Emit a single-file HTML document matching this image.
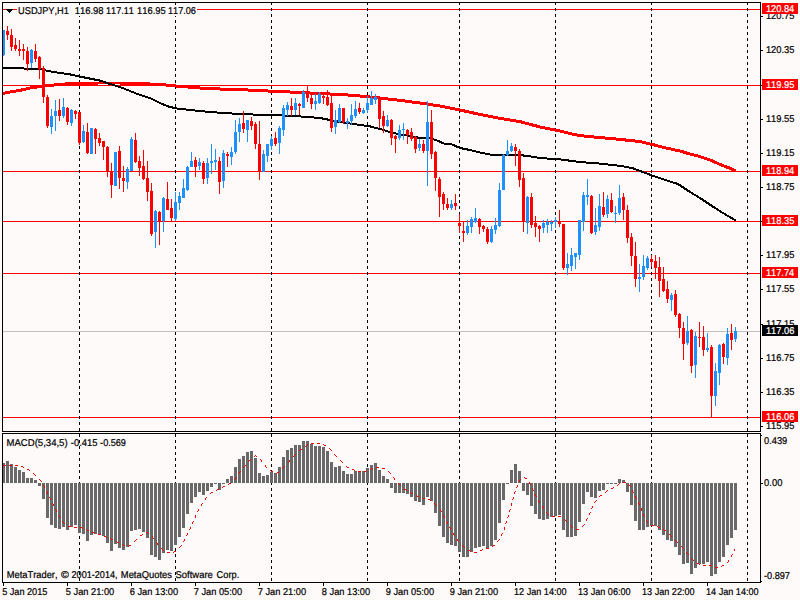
<!DOCTYPE html>
<html><head><meta charset="utf-8"><title>USDJPY,H1</title>
<style>html,body{margin:0;padding:0;background:#FFFAFA;overflow:hidden}svg{display:block}text{font-family:"Liberation Sans",sans-serif;font-size:9px;fill:#000;text-rendering:geometricPrecision;font-kerning:none;stroke:#000;stroke-width:0.2px}.w{fill:#fff;stroke:#fff}</style>
</head><body>
<svg width="800" height="600" viewBox="0 0 800 600" shape-rendering="crispEdges">
<rect x="0" y="0" width="800" height="600" fill="#FFFAFA"/>
<g fill="#FF0000">
<rect x="3" y="9" width="757" height="1"/>
<rect x="3" y="85" width="757" height="1"/>
<rect x="3" y="171" width="757" height="1"/>
<rect x="3" y="221" width="757" height="1"/>
<rect x="3" y="273" width="757" height="1"/>
<rect x="3" y="417" width="757" height="1"/>
</g>
<rect x="3" y="331" width="757" height="1" fill="#C0C0C0"/>
<g stroke="#000" stroke-width="1" stroke-dasharray="3,3">
<line x1="79.5" y1="2" x2="79.5" y2="431"/>
<line x1="79.5" y1="434" x2="79.5" y2="582"/>
<line x1="175.5" y1="2" x2="175.5" y2="431"/>
<line x1="175.5" y1="434" x2="175.5" y2="582"/>
<line x1="271.5" y1="2" x2="271.5" y2="431"/>
<line x1="271.5" y1="434" x2="271.5" y2="582"/>
<line x1="367.5" y1="2" x2="367.5" y2="431"/>
<line x1="367.5" y1="434" x2="367.5" y2="582"/>
<line x1="459.5" y1="2" x2="459.5" y2="431"/>
<line x1="459.5" y1="434" x2="459.5" y2="582"/>
<line x1="555.5" y1="2" x2="555.5" y2="431"/>
<line x1="555.5" y1="434" x2="555.5" y2="582"/>
<line x1="651.5" y1="2" x2="651.5" y2="431"/>
<line x1="651.5" y1="434" x2="651.5" y2="582"/>
<line x1="747.5" y1="2" x2="747.5" y2="431"/>
<line x1="747.5" y1="434" x2="747.5" y2="582"/>
</g>
<polyline points="3.0,93.4 12.0,91.6 20.0,90.4 30.0,88.0 40.0,86.6 50.0,85.4 60.0,84.4 70.0,83.6 80.0,83.2 100.0,83.0 120.0,83.0 140.0,83.6 160.0,84.4 180.0,86.4 200.0,88.0 220.0,89.0 240.0,89.6 260.0,90.6 280.0,91.6 300.0,92.4 320.0,93.6 340.0,94.4 360.0,96.0 380.0,98.0 400.0,100.4 420.0,103.0 440.0,106.0 460.0,110.0 480.0,114.4 500.0,118.4 520.0,121.6 540.0,127.0 560.0,131.0 570.0,133.6 580.0,135.6 600.0,137.6 620.0,139.4 640.0,141.6 652.0,144.4 666.0,148.0 680.0,151.0 690.0,154.0 700.0,156.6 710.0,160.0 720.0,164.4 730.0,168.3 736.0,171.0" fill="none" stroke="#FF0000" stroke-width="3" stroke-linejoin="round"/>
<polyline points="3.0,68.0 20.0,68.4 40.0,69.0 50.0,71.4 60.0,73.0 70.0,74.4 80.0,76.6 90.0,78.6 100.0,80.6 110.0,84.0 120.0,87.0 130.0,91.0 140.0,95.0 150.0,98.0 160.0,103.0 168.0,106.4 176.0,108.4 190.0,110.0 210.0,112.0 230.0,113.4 250.0,114.4 270.0,115.2 290.0,115.6 300.0,116.4 320.0,118.0 340.0,122.0 360.0,125.0 370.0,126.4 380.0,129.0 390.0,132.0 400.0,134.4 410.0,136.0 420.0,138.0 430.0,138.4 436.0,140.0 444.0,143.6 452.0,144.4 460.0,148.0 470.0,150.0 480.0,152.5 492.0,155.0 510.0,155.0 526.0,155.6 540.0,158.0 560.0,159.4 580.0,162.0 600.0,163.6 620.0,165.8 632.0,168.0 640.0,171.0 652.0,175.4 664.0,179.6 678.0,184.0 690.0,192.0 700.0,198.0 710.0,204.7 720.0,211.2 730.0,217.2 736.0,220.6" fill="none" stroke="#000" stroke-width="2" stroke-linejoin="round"/>
<g fill="#FF0000">
<rect x="7" y="26" width="1" height="14"/>
<rect x="6" y="31" width="3" height="4"/>
<rect x="11" y="29" width="1" height="22"/>
<rect x="10" y="35" width="3" height="12"/>
<rect x="15" y="38" width="1" height="13"/>
<rect x="14" y="45" width="3" height="4"/>
<rect x="19" y="40" width="1" height="16"/>
<rect x="18" y="49" width="3" height="2"/>
<rect x="23" y="44" width="1" height="16"/>
<rect x="22" y="49" width="3" height="2"/>
<rect x="27" y="47" width="1" height="24"/>
<rect x="26" y="51" width="3" height="13"/>
<rect x="35" y="44" width="1" height="18"/>
<rect x="34" y="51" width="3" height="8"/>
<rect x="39" y="56" width="1" height="23"/>
<rect x="38" y="57" width="3" height="12"/>
<rect x="43" y="66" width="1" height="37"/>
<rect x="42" y="68" width="3" height="29"/>
<rect x="47" y="95" width="1" height="33"/>
<rect x="46" y="97" width="3" height="29"/>
<rect x="59" y="99" width="1" height="22"/>
<rect x="58" y="110" width="3" height="6"/>
<rect x="67" y="107" width="1" height="18"/>
<rect x="66" y="108" width="3" height="14"/>
<rect x="75" y="110" width="1" height="9"/>
<rect x="74" y="111" width="3" height="3"/>
<rect x="79" y="112" width="1" height="33"/>
<rect x="78" y="112" width="3" height="31"/>
<rect x="87" y="123" width="1" height="31"/>
<rect x="86" y="132" width="3" height="21"/>
<rect x="95" y="128" width="1" height="26"/>
<rect x="94" y="129" width="3" height="10"/>
<rect x="99" y="133" width="1" height="13"/>
<rect x="98" y="138" width="3" height="5"/>
<rect x="103" y="141" width="1" height="19"/>
<rect x="102" y="141" width="3" height="6"/>
<rect x="107" y="146" width="1" height="31"/>
<rect x="106" y="147" width="3" height="25"/>
<rect x="111" y="163" width="1" height="35"/>
<rect x="110" y="171" width="3" height="14"/>
<rect x="119" y="146" width="1" height="43"/>
<rect x="118" y="151" width="3" height="27"/>
<rect x="123" y="166" width="1" height="26"/>
<rect x="122" y="178" width="3" height="3"/>
<rect x="135" y="133" width="1" height="30"/>
<rect x="134" y="140" width="3" height="22"/>
<rect x="139" y="156" width="1" height="20"/>
<rect x="138" y="161" width="3" height="7"/>
<rect x="143" y="150" width="1" height="30"/>
<rect x="142" y="166" width="3" height="13"/>
<rect x="147" y="161" width="1" height="40"/>
<rect x="146" y="178" width="3" height="14"/>
<rect x="151" y="183" width="1" height="53"/>
<rect x="150" y="191" width="3" height="43"/>
<rect x="159" y="211" width="1" height="34"/>
<rect x="158" y="212" width="3" height="9"/>
<rect x="167" y="182" width="1" height="28"/>
<rect x="166" y="199" width="3" height="11"/>
<rect x="171" y="199" width="1" height="22"/>
<rect x="170" y="208" width="3" height="10"/>
<rect x="195" y="157" width="1" height="20"/>
<rect x="194" y="160" width="3" height="7"/>
<rect x="203" y="161" width="1" height="23"/>
<rect x="202" y="163" width="3" height="16"/>
<rect x="219" y="157" width="1" height="37"/>
<rect x="218" y="161" width="3" height="21"/>
<rect x="227" y="152" width="1" height="15"/>
<rect x="226" y="154" width="3" height="2"/>
<rect x="243" y="111" width="1" height="22"/>
<rect x="242" y="123" width="3" height="6"/>
<rect x="251" y="117" width="1" height="13"/>
<rect x="250" y="121" width="3" height="5"/>
<rect x="255" y="122" width="1" height="27"/>
<rect x="254" y="124" width="3" height="20"/>
<rect x="259" y="121" width="1" height="59"/>
<rect x="258" y="144" width="3" height="28"/>
<rect x="275" y="132" width="1" height="14"/>
<rect x="274" y="138" width="3" height="6"/>
<rect x="291" y="98" width="1" height="18"/>
<rect x="290" y="106" width="3" height="4"/>
<rect x="299" y="103" width="1" height="12"/>
<rect x="298" y="104" width="3" height="2"/>
<rect x="307" y="86" width="1" height="16"/>
<rect x="306" y="91" width="3" height="7"/>
<rect x="311" y="95" width="1" height="14"/>
<rect x="310" y="98" width="3" height="6"/>
<rect x="323" y="94" width="1" height="10"/>
<rect x="322" y="96" width="3" height="2"/>
<rect x="327" y="90" width="1" height="16"/>
<rect x="326" y="97" width="3" height="8"/>
<rect x="331" y="94" width="1" height="38"/>
<rect x="330" y="103" width="3" height="25"/>
<rect x="343" y="108" width="1" height="16"/>
<rect x="342" y="108" width="3" height="14"/>
<rect x="359" y="103" width="1" height="11"/>
<rect x="358" y="108" width="3" height="4"/>
<rect x="379" y="97" width="1" height="31"/>
<rect x="378" y="98" width="3" height="21"/>
<rect x="383" y="111" width="1" height="22"/>
<rect x="382" y="116" width="3" height="10"/>
<rect x="391" y="119" width="1" height="26"/>
<rect x="390" y="120" width="3" height="18"/>
<rect x="395" y="135" width="1" height="18"/>
<rect x="394" y="136" width="3" height="3"/>
<rect x="407" y="129" width="1" height="15"/>
<rect x="406" y="130" width="3" height="5"/>
<rect x="411" y="128" width="1" height="13"/>
<rect x="410" y="132" width="3" height="7"/>
<rect x="415" y="136" width="1" height="17"/>
<rect x="414" y="137" width="3" height="12"/>
<rect x="423" y="140" width="1" height="13"/>
<rect x="422" y="144" width="3" height="7"/>
<rect x="431" y="110" width="1" height="49"/>
<rect x="430" y="122" width="3" height="32"/>
<rect x="435" y="151" width="1" height="40"/>
<rect x="434" y="152" width="3" height="26"/>
<rect x="439" y="177" width="1" height="40"/>
<rect x="438" y="179" width="3" height="18"/>
<rect x="443" y="192" width="1" height="18"/>
<rect x="442" y="194" width="3" height="10"/>
<rect x="447" y="198" width="1" height="12"/>
<rect x="446" y="204" width="3" height="4"/>
<rect x="455" y="194" width="1" height="16"/>
<rect x="454" y="203" width="3" height="3"/>
<rect x="459" y="214" width="1" height="19"/>
<rect x="458" y="223" width="3" height="3"/>
<rect x="463" y="221" width="1" height="21"/>
<rect x="462" y="231" width="3" height="2"/>
<rect x="479" y="218" width="1" height="16"/>
<rect x="478" y="219" width="3" height="8"/>
<rect x="483" y="225" width="1" height="7"/>
<rect x="482" y="226" width="3" height="3"/>
<rect x="487" y="227" width="1" height="17"/>
<rect x="486" y="229" width="3" height="13"/>
<rect x="515" y="144" width="1" height="22"/>
<rect x="514" y="147" width="3" height="4"/>
<rect x="519" y="149" width="1" height="38"/>
<rect x="518" y="151" width="3" height="29"/>
<rect x="523" y="173" width="1" height="59"/>
<rect x="522" y="178" width="3" height="44"/>
<rect x="531" y="193" width="1" height="35"/>
<rect x="530" y="197" width="3" height="28"/>
<rect x="535" y="216" width="1" height="21"/>
<rect x="534" y="223" width="3" height="4"/>
<rect x="539" y="225" width="1" height="17"/>
<rect x="538" y="226" width="3" height="3"/>
<rect x="559" y="210" width="1" height="17"/>
<rect x="558" y="222" width="3" height="2"/>
<rect x="563" y="224" width="1" height="46"/>
<rect x="562" y="224" width="3" height="44"/>
<rect x="591" y="195" width="1" height="39"/>
<rect x="590" y="196" width="3" height="37"/>
<rect x="603" y="192" width="1" height="25"/>
<rect x="602" y="207" width="3" height="8"/>
<rect x="611" y="193" width="1" height="20"/>
<rect x="610" y="200" width="3" height="12"/>
<rect x="623" y="193" width="1" height="27"/>
<rect x="622" y="197" width="3" height="13"/>
<rect x="627" y="205" width="1" height="38"/>
<rect x="626" y="210" width="3" height="28"/>
<rect x="631" y="233" width="1" height="33"/>
<rect x="630" y="237" width="3" height="19"/>
<rect x="635" y="242" width="1" height="45"/>
<rect x="634" y="256" width="3" height="23"/>
<rect x="651" y="255" width="1" height="12"/>
<rect x="650" y="259" width="3" height="3"/>
<rect x="655" y="255" width="1" height="24"/>
<rect x="654" y="261" width="3" height="7"/>
<rect x="659" y="257" width="1" height="40"/>
<rect x="658" y="267" width="3" height="14"/>
<rect x="663" y="267" width="1" height="25"/>
<rect x="662" y="279" width="3" height="12"/>
<rect x="667" y="281" width="1" height="22"/>
<rect x="666" y="289" width="3" height="10"/>
<rect x="675" y="290" width="1" height="27"/>
<rect x="674" y="294" width="3" height="21"/>
<rect x="679" y="313" width="1" height="25"/>
<rect x="678" y="314" width="3" height="14"/>
<rect x="683" y="322" width="1" height="38"/>
<rect x="682" y="328" width="3" height="16"/>
<rect x="691" y="329" width="1" height="44"/>
<rect x="690" y="330" width="3" height="36"/>
<rect x="699" y="322" width="1" height="25"/>
<rect x="698" y="337" width="3" height="1"/>
<rect x="703" y="326" width="1" height="30"/>
<rect x="702" y="337" width="3" height="13"/>
<rect x="711" y="345" width="1" height="73"/>
<rect x="710" y="347" width="3" height="49"/>
<rect x="723" y="343" width="1" height="21"/>
<rect x="722" y="344" width="3" height="13"/>
<rect x="731" y="324" width="1" height="26"/>
<rect x="730" y="333" width="3" height="7"/>
</g>
<g fill="#1E90FF">
<rect x="3" y="30" width="1" height="26"/>
<rect x="2" y="30" width="3" height="25"/>
<rect x="31" y="49" width="1" height="19"/>
<rect x="30" y="50" width="3" height="13"/>
<rect x="51" y="109" width="1" height="25"/>
<rect x="50" y="116" width="3" height="11"/>
<rect x="55" y="100" width="1" height="31"/>
<rect x="54" y="111" width="3" height="5"/>
<rect x="63" y="98" width="1" height="20"/>
<rect x="62" y="107" width="3" height="9"/>
<rect x="71" y="109" width="1" height="17"/>
<rect x="70" y="110" width="3" height="13"/>
<rect x="83" y="125" width="1" height="18"/>
<rect x="82" y="131" width="3" height="11"/>
<rect x="91" y="128" width="1" height="26"/>
<rect x="90" y="128" width="3" height="26"/>
<rect x="115" y="152" width="1" height="34"/>
<rect x="114" y="152" width="3" height="34"/>
<rect x="127" y="167" width="1" height="22"/>
<rect x="126" y="169" width="3" height="13"/>
<rect x="131" y="137" width="1" height="34"/>
<rect x="130" y="139" width="3" height="32"/>
<rect x="155" y="210" width="1" height="38"/>
<rect x="154" y="211" width="3" height="21"/>
<rect x="163" y="197" width="1" height="35"/>
<rect x="162" y="198" width="3" height="23"/>
<rect x="175" y="192" width="1" height="29"/>
<rect x="174" y="202" width="3" height="17"/>
<rect x="179" y="192" width="1" height="18"/>
<rect x="178" y="196" width="3" height="7"/>
<rect x="183" y="179" width="1" height="19"/>
<rect x="182" y="188" width="3" height="10"/>
<rect x="187" y="166" width="1" height="25"/>
<rect x="186" y="167" width="3" height="23"/>
<rect x="191" y="152" width="1" height="15"/>
<rect x="190" y="161" width="3" height="6"/>
<rect x="199" y="158" width="1" height="12"/>
<rect x="198" y="162" width="3" height="4"/>
<rect x="207" y="158" width="1" height="26"/>
<rect x="206" y="163" width="3" height="15"/>
<rect x="211" y="144" width="1" height="30"/>
<rect x="210" y="161" width="3" height="2"/>
<rect x="215" y="149" width="1" height="21"/>
<rect x="214" y="160" width="3" height="2"/>
<rect x="223" y="150" width="1" height="38"/>
<rect x="222" y="153" width="3" height="28"/>
<rect x="231" y="147" width="1" height="18"/>
<rect x="230" y="152" width="3" height="5"/>
<rect x="235" y="120" width="1" height="34"/>
<rect x="234" y="132" width="3" height="20"/>
<rect x="239" y="118" width="1" height="24"/>
<rect x="238" y="124" width="3" height="8"/>
<rect x="247" y="120" width="1" height="22"/>
<rect x="246" y="120" width="3" height="10"/>
<rect x="263" y="150" width="1" height="22"/>
<rect x="262" y="154" width="3" height="18"/>
<rect x="267" y="144" width="1" height="18"/>
<rect x="266" y="144" width="3" height="12"/>
<rect x="271" y="136" width="1" height="14"/>
<rect x="270" y="139" width="3" height="7"/>
<rect x="279" y="126" width="1" height="28"/>
<rect x="278" y="128" width="3" height="15"/>
<rect x="283" y="105" width="1" height="31"/>
<rect x="282" y="108" width="3" height="22"/>
<rect x="287" y="102" width="1" height="14"/>
<rect x="286" y="105" width="3" height="5"/>
<rect x="295" y="98" width="1" height="17"/>
<rect x="294" y="103" width="3" height="7"/>
<rect x="303" y="90" width="1" height="18"/>
<rect x="302" y="92" width="3" height="16"/>
<rect x="315" y="94" width="1" height="16"/>
<rect x="314" y="101" width="3" height="3"/>
<rect x="319" y="92" width="1" height="12"/>
<rect x="318" y="94" width="3" height="9"/>
<rect x="335" y="110" width="1" height="24"/>
<rect x="334" y="120" width="3" height="7"/>
<rect x="339" y="104" width="1" height="19"/>
<rect x="338" y="108" width="3" height="14"/>
<rect x="347" y="118" width="1" height="11"/>
<rect x="346" y="121" width="3" height="2"/>
<rect x="351" y="104" width="1" height="21"/>
<rect x="350" y="115" width="3" height="6"/>
<rect x="355" y="101" width="1" height="17"/>
<rect x="354" y="109" width="3" height="7"/>
<rect x="363" y="108" width="1" height="6"/>
<rect x="362" y="110" width="3" height="3"/>
<rect x="367" y="96" width="1" height="17"/>
<rect x="366" y="103" width="3" height="7"/>
<rect x="371" y="91" width="1" height="14"/>
<rect x="370" y="98" width="3" height="7"/>
<rect x="375" y="94" width="1" height="10"/>
<rect x="374" y="97" width="3" height="3"/>
<rect x="387" y="115" width="1" height="12"/>
<rect x="386" y="120" width="3" height="6"/>
<rect x="399" y="125" width="1" height="15"/>
<rect x="398" y="130" width="3" height="8"/>
<rect x="403" y="123" width="1" height="17"/>
<rect x="402" y="129" width="3" height="1"/>
<rect x="419" y="139" width="1" height="12"/>
<rect x="418" y="144" width="3" height="4"/>
<rect x="427" y="101" width="1" height="85"/>
<rect x="426" y="122" width="3" height="29"/>
<rect x="451" y="200" width="1" height="10"/>
<rect x="450" y="204" width="3" height="4"/>
<rect x="467" y="220" width="1" height="15"/>
<rect x="466" y="226" width="3" height="7"/>
<rect x="471" y="217" width="1" height="16"/>
<rect x="470" y="219" width="3" height="8"/>
<rect x="475" y="208" width="1" height="15"/>
<rect x="474" y="218" width="3" height="4"/>
<rect x="491" y="226" width="1" height="17"/>
<rect x="490" y="229" width="3" height="13"/>
<rect x="495" y="218" width="1" height="16"/>
<rect x="494" y="225" width="3" height="5"/>
<rect x="499" y="183" width="1" height="44"/>
<rect x="498" y="190" width="3" height="36"/>
<rect x="503" y="154" width="1" height="36"/>
<rect x="502" y="155" width="3" height="35"/>
<rect x="507" y="140" width="1" height="16"/>
<rect x="506" y="151" width="3" height="4"/>
<rect x="511" y="143" width="1" height="9"/>
<rect x="510" y="146" width="3" height="5"/>
<rect x="527" y="196" width="1" height="38"/>
<rect x="526" y="197" width="3" height="26"/>
<rect x="543" y="220" width="1" height="13"/>
<rect x="542" y="223" width="3" height="5"/>
<rect x="547" y="219" width="1" height="14"/>
<rect x="546" y="222" width="3" height="3"/>
<rect x="551" y="220" width="1" height="11"/>
<rect x="550" y="222" width="3" height="2"/>
<rect x="555" y="217" width="1" height="11"/>
<rect x="554" y="220" width="3" height="2"/>
<rect x="567" y="253" width="1" height="22"/>
<rect x="566" y="264" width="3" height="4"/>
<rect x="571" y="248" width="1" height="23"/>
<rect x="570" y="255" width="3" height="11"/>
<rect x="575" y="253" width="1" height="16"/>
<rect x="574" y="253" width="3" height="4"/>
<rect x="579" y="220" width="1" height="40"/>
<rect x="578" y="220" width="3" height="35"/>
<rect x="583" y="192" width="1" height="39"/>
<rect x="582" y="195" width="3" height="27"/>
<rect x="587" y="179" width="1" height="26"/>
<rect x="586" y="195" width="3" height="2"/>
<rect x="595" y="208" width="1" height="27"/>
<rect x="594" y="225" width="3" height="7"/>
<rect x="599" y="194" width="1" height="37"/>
<rect x="598" y="206" width="3" height="21"/>
<rect x="607" y="195" width="1" height="23"/>
<rect x="606" y="199" width="3" height="15"/>
<rect x="615" y="206" width="1" height="17"/>
<rect x="614" y="213" width="3" height="1"/>
<rect x="619" y="185" width="1" height="30"/>
<rect x="618" y="198" width="3" height="15"/>
<rect x="639" y="264" width="1" height="28"/>
<rect x="638" y="277" width="3" height="2"/>
<rect x="643" y="255" width="1" height="25"/>
<rect x="642" y="266" width="3" height="11"/>
<rect x="647" y="256" width="1" height="14"/>
<rect x="646" y="258" width="3" height="10"/>
<rect x="671" y="293" width="1" height="18"/>
<rect x="670" y="295" width="3" height="5"/>
<rect x="687" y="316" width="1" height="29"/>
<rect x="686" y="331" width="3" height="12"/>
<rect x="695" y="332" width="1" height="46"/>
<rect x="694" y="336" width="3" height="29"/>
<rect x="707" y="333" width="1" height="19"/>
<rect x="706" y="348" width="3" height="2"/>
<rect x="715" y="363" width="1" height="43"/>
<rect x="714" y="371" width="3" height="25"/>
<rect x="719" y="344" width="1" height="41"/>
<rect x="718" y="345" width="3" height="28"/>
<rect x="727" y="328" width="1" height="37"/>
<rect x="726" y="334" width="3" height="24"/>
<rect x="735" y="327" width="1" height="15"/>
<rect x="734" y="331" width="3" height="8"/>
</g>
<g fill="#696969">
<rect x="2" y="463" width="3" height="20"/>
<rect x="6" y="461" width="3" height="22"/>
<rect x="10" y="464" width="3" height="19"/>
<rect x="14" y="467" width="3" height="16"/>
<rect x="18" y="470" width="3" height="13"/>
<rect x="22" y="472" width="3" height="11"/>
<rect x="26" y="478" width="3" height="5"/>
<rect x="30" y="478" width="3" height="5"/>
<rect x="34" y="480" width="3" height="3"/>
<rect x="38" y="483" width="3" height="3"/>
<rect x="42" y="483" width="3" height="16"/>
<rect x="46" y="483" width="3" height="35"/>
<rect x="50" y="483" width="3" height="42"/>
<rect x="54" y="483" width="3" height="45"/>
<rect x="58" y="483" width="3" height="46"/>
<rect x="62" y="483" width="3" height="44"/>
<rect x="66" y="483" width="3" height="47"/>
<rect x="70" y="483" width="3" height="44"/>
<rect x="74" y="483" width="3" height="42"/>
<rect x="78" y="483" width="3" height="50"/>
<rect x="82" y="483" width="3" height="51"/>
<rect x="86" y="483" width="3" height="58"/>
<rect x="90" y="483" width="3" height="52"/>
<rect x="94" y="483" width="3" height="51"/>
<rect x="98" y="483" width="3" height="51"/>
<rect x="102" y="483" width="3" height="53"/>
<rect x="106" y="483" width="3" height="60"/>
<rect x="110" y="483" width="3" height="68"/>
<rect x="114" y="483" width="3" height="61"/>
<rect x="118" y="483" width="3" height="65"/>
<rect x="122" y="483" width="3" height="67"/>
<rect x="126" y="483" width="3" height="64"/>
<rect x="130" y="483" width="3" height="48"/>
<rect x="134" y="483" width="3" height="47"/>
<rect x="138" y="483" width="3" height="46"/>
<rect x="142" y="483" width="3" height="49"/>
<rect x="146" y="483" width="3" height="55"/>
<rect x="150" y="483" width="3" height="72"/>
<rect x="154" y="483" width="3" height="74"/>
<rect x="158" y="483" width="3" height="77"/>
<rect x="162" y="483" width="3" height="70"/>
<rect x="166" y="483" width="3" height="67"/>
<rect x="170" y="483" width="3" height="68"/>
<rect x="174" y="483" width="3" height="62"/>
<rect x="178" y="483" width="3" height="54"/>
<rect x="182" y="483" width="3" height="45"/>
<rect x="186" y="483" width="3" height="31"/>
<rect x="190" y="483" width="3" height="20"/>
<rect x="194" y="483" width="3" height="14"/>
<rect x="198" y="483" width="3" height="9"/>
<rect x="202" y="483" width="3" height="12"/>
<rect x="206" y="483" width="3" height="8"/>
<rect x="210" y="483" width="3" height="4"/>
<rect x="214" y="483" width="3" height="1"/>
<rect x="218" y="483" width="3" height="7"/>
<rect x="222" y="483" width="3" height="1"/>
<rect x="226" y="479" width="3" height="4"/>
<rect x="230" y="476" width="3" height="7"/>
<rect x="234" y="467" width="3" height="16"/>
<rect x="238" y="459" width="3" height="24"/>
<rect x="242" y="456" width="3" height="27"/>
<rect x="246" y="452" width="3" height="31"/>
<rect x="250" y="451" width="3" height="32"/>
<rect x="254" y="458" width="3" height="25"/>
<rect x="258" y="473" width="3" height="10"/>
<rect x="262" y="476" width="3" height="7"/>
<rect x="266" y="475" width="3" height="8"/>
<rect x="270" y="472" width="3" height="11"/>
<rect x="274" y="473" width="3" height="10"/>
<rect x="278" y="467" width="3" height="16"/>
<rect x="282" y="457" width="3" height="26"/>
<rect x="286" y="450" width="3" height="33"/>
<rect x="290" y="448" width="3" height="35"/>
<rect x="294" y="445" width="3" height="38"/>
<rect x="298" y="445" width="3" height="38"/>
<rect x="302" y="441" width="3" height="42"/>
<rect x="306" y="441" width="3" height="42"/>
<rect x="310" y="444" width="3" height="39"/>
<rect x="314" y="446" width="3" height="37"/>
<rect x="318" y="446" width="3" height="37"/>
<rect x="322" y="447" width="3" height="36"/>
<rect x="326" y="451" width="3" height="32"/>
<rect x="330" y="462" width="3" height="21"/>
<rect x="334" y="467" width="3" height="16"/>
<rect x="338" y="466" width="3" height="17"/>
<rect x="342" y="471" width="3" height="12"/>
<rect x="346" y="474" width="3" height="9"/>
<rect x="350" y="474" width="3" height="9"/>
<rect x="354" y="471" width="3" height="12"/>
<rect x="358" y="471" width="3" height="12"/>
<rect x="362" y="471" width="3" height="12"/>
<rect x="366" y="468" width="3" height="15"/>
<rect x="370" y="465" width="3" height="18"/>
<rect x="374" y="463" width="3" height="20"/>
<rect x="378" y="470" width="3" height="13"/>
<rect x="382" y="476" width="3" height="7"/>
<rect x="386" y="479" width="3" height="4"/>
<rect x="390" y="483" width="3" height="5"/>
<rect x="394" y="483" width="3" height="10"/>
<rect x="398" y="483" width="3" height="10"/>
<rect x="402" y="483" width="3" height="10"/>
<rect x="406" y="483" width="3" height="11"/>
<rect x="410" y="483" width="3" height="14"/>
<rect x="414" y="483" width="3" height="18"/>
<rect x="418" y="483" width="3" height="19"/>
<rect x="422" y="483" width="3" height="22"/>
<rect x="426" y="483" width="3" height="14"/>
<rect x="430" y="483" width="3" height="18"/>
<rect x="434" y="483" width="3" height="30"/>
<rect x="438" y="483" width="3" height="43"/>
<rect x="442" y="483" width="3" height="54"/>
<rect x="446" y="483" width="3" height="60"/>
<rect x="450" y="483" width="3" height="62"/>
<rect x="454" y="483" width="3" height="63"/>
<rect x="458" y="483" width="3" height="69"/>
<rect x="462" y="483" width="3" height="74"/>
<rect x="466" y="483" width="3" height="74"/>
<rect x="470" y="483" width="3" height="69"/>
<rect x="474" y="483" width="3" height="65"/>
<rect x="478" y="483" width="3" height="64"/>
<rect x="482" y="483" width="3" height="63"/>
<rect x="486" y="483" width="3" height="65"/>
<rect x="490" y="483" width="3" height="63"/>
<rect x="494" y="483" width="3" height="57"/>
<rect x="498" y="483" width="3" height="40"/>
<rect x="502" y="483" width="3" height="17"/>
<rect x="506" y="483" width="3" height="1"/>
<rect x="510" y="470" width="3" height="13"/>
<rect x="514" y="464" width="3" height="19"/>
<rect x="518" y="471" width="3" height="12"/>
<rect x="522" y="483" width="3" height="8"/>
<rect x="526" y="483" width="3" height="12"/>
<rect x="530" y="483" width="3" height="23"/>
<rect x="534" y="483" width="3" height="31"/>
<rect x="538" y="483" width="3" height="36"/>
<rect x="542" y="483" width="3" height="37"/>
<rect x="546" y="483" width="3" height="36"/>
<rect x="550" y="483" width="3" height="34"/>
<rect x="554" y="483" width="3" height="33"/>
<rect x="558" y="483" width="3" height="32"/>
<rect x="562" y="483" width="3" height="47"/>
<rect x="566" y="483" width="3" height="54"/>
<rect x="570" y="483" width="3" height="54"/>
<rect x="574" y="483" width="3" height="53"/>
<rect x="578" y="483" width="3" height="39"/>
<rect x="582" y="483" width="3" height="21"/>
<rect x="586" y="483" width="3" height="9"/>
<rect x="590" y="483" width="3" height="14"/>
<rect x="594" y="483" width="3" height="15"/>
<rect x="598" y="483" width="3" height="8"/>
<rect x="602" y="483" width="3" height="7"/>
<rect x="606" y="483" width="3" height="1"/>
<rect x="610" y="483" width="3" height="1"/>
<rect x="614" y="483" width="3" height="1"/>
<rect x="618" y="479" width="3" height="4"/>
<rect x="622" y="480" width="3" height="3"/>
<rect x="626" y="483" width="3" height="9"/>
<rect x="630" y="483" width="3" height="22"/>
<rect x="634" y="483" width="3" height="38"/>
<rect x="638" y="483" width="3" height="47"/>
<rect x="642" y="483" width="3" height="47"/>
<rect x="646" y="483" width="3" height="44"/>
<rect x="650" y="483" width="3" height="43"/>
<rect x="654" y="483" width="3" height="43"/>
<rect x="658" y="483" width="3" height="47"/>
<rect x="662" y="483" width="3" height="52"/>
<rect x="666" y="483" width="3" height="57"/>
<rect x="670" y="483" width="3" height="58"/>
<rect x="674" y="483" width="3" height="64"/>
<rect x="678" y="483" width="3" height="72"/>
<rect x="682" y="483" width="3" height="81"/>
<rect x="686" y="483" width="3" height="80"/>
<rect x="690" y="483" width="3" height="91"/>
<rect x="694" y="483" width="3" height="85"/>
<rect x="698" y="483" width="3" height="81"/>
<rect x="702" y="483" width="3" height="81"/>
<rect x="706" y="483" width="3" height="79"/>
<rect x="710" y="483" width="3" height="93"/>
<rect x="714" y="483" width="3" height="91"/>
<rect x="718" y="483" width="3" height="79"/>
<rect x="722" y="483" width="3" height="74"/>
<rect x="726" y="483" width="3" height="62"/>
<rect x="730" y="483" width="3" height="55"/>
<rect x="734" y="483" width="3" height="47"/>
</g>
<g fill="#FF0000">
<rect x="3" y="465" width="1" height="1"/>
<rect x="4" y="465" width="1" height="1"/>
<rect x="5" y="465" width="1" height="1"/>
<rect x="9" y="465" width="1" height="1"/>
<rect x="10" y="465" width="1" height="1"/>
<rect x="11" y="465" width="1" height="1"/>
<rect x="15" y="465" width="1" height="1"/>
<rect x="16" y="465" width="1" height="1"/>
<rect x="17" y="465" width="1" height="1"/>
<rect x="21" y="466" width="1" height="1"/>
<rect x="22" y="466" width="1" height="1"/>
<rect x="23" y="467" width="1" height="1"/>
<rect x="27" y="469" width="1" height="1"/>
<rect x="28" y="469" width="1" height="1"/>
<rect x="29" y="470" width="1" height="1"/>
<rect x="33" y="473" width="1" height="1"/>
<rect x="34" y="474" width="1" height="1"/>
<rect x="35" y="475" width="1" height="1"/>
<rect x="39" y="479" width="1" height="1"/>
<rect x="40" y="480" width="1" height="1"/>
<rect x="41" y="481" width="1" height="1"/>
<rect x="43" y="485" width="1" height="1"/>
<rect x="44" y="486" width="1" height="1"/>
<rect x="44" y="487" width="1" height="1"/>
<rect x="46" y="491" width="1" height="1"/>
<rect x="47" y="492" width="1" height="1"/>
<rect x="47" y="493" width="1" height="1"/>
<rect x="49" y="497" width="1" height="1"/>
<rect x="50" y="498" width="1" height="1"/>
<rect x="50" y="499" width="1" height="1"/>
<rect x="52" y="503" width="1" height="1"/>
<rect x="53" y="504" width="1" height="1"/>
<rect x="53" y="505" width="1" height="1"/>
<rect x="55" y="509" width="1" height="1"/>
<rect x="56" y="510" width="1" height="1"/>
<rect x="56" y="511" width="1" height="1"/>
<rect x="58" y="515" width="1" height="1"/>
<rect x="59" y="516" width="1" height="1"/>
<rect x="60" y="517" width="1" height="1"/>
<rect x="62" y="521" width="1" height="1"/>
<rect x="63" y="522" width="1" height="1"/>
<rect x="64" y="523" width="1" height="1"/>
<rect x="68" y="526" width="1" height="1"/>
<rect x="69" y="526" width="1" height="1"/>
<rect x="70" y="526" width="1" height="1"/>
<rect x="74" y="527" width="1" height="1"/>
<rect x="75" y="527" width="1" height="1"/>
<rect x="76" y="527" width="1" height="1"/>
<rect x="80" y="527" width="1" height="1"/>
<rect x="81" y="527" width="1" height="1"/>
<rect x="82" y="528" width="1" height="1"/>
<rect x="86" y="529" width="1" height="1"/>
<rect x="87" y="530" width="1" height="1"/>
<rect x="88" y="530" width="1" height="1"/>
<rect x="92" y="532" width="1" height="1"/>
<rect x="93" y="532" width="1" height="1"/>
<rect x="94" y="533" width="1" height="1"/>
<rect x="98" y="534" width="1" height="1"/>
<rect x="99" y="534" width="1" height="1"/>
<rect x="100" y="534" width="1" height="1"/>
<rect x="104" y="536" width="1" height="1"/>
<rect x="105" y="536" width="1" height="1"/>
<rect x="106" y="537" width="1" height="1"/>
<rect x="110" y="538" width="1" height="1"/>
<rect x="111" y="539" width="1" height="1"/>
<rect x="112" y="539" width="1" height="1"/>
<rect x="116" y="541" width="1" height="1"/>
<rect x="117" y="542" width="1" height="1"/>
<rect x="118" y="542" width="1" height="1"/>
<rect x="122" y="544" width="1" height="1"/>
<rect x="123" y="545" width="1" height="1"/>
<rect x="124" y="545" width="1" height="1"/>
<rect x="128" y="546" width="1" height="1"/>
<rect x="129" y="545" width="1" height="1"/>
<rect x="130" y="545" width="1" height="1"/>
<rect x="134" y="541" width="1" height="1"/>
<rect x="135" y="540" width="1" height="1"/>
<rect x="136" y="539" width="1" height="1"/>
<rect x="140" y="535" width="1" height="1"/>
<rect x="141" y="535" width="1" height="1"/>
<rect x="142" y="534" width="1" height="1"/>
<rect x="146" y="532" width="1" height="1"/>
<rect x="147" y="532" width="1" height="1"/>
<rect x="148" y="533" width="1" height="1"/>
<rect x="152" y="536" width="1" height="1"/>
<rect x="152" y="537" width="1" height="1"/>
<rect x="153" y="538" width="1" height="1"/>
<rect x="156" y="542" width="1" height="1"/>
<rect x="157" y="543" width="1" height="1"/>
<rect x="157" y="544" width="1" height="1"/>
<rect x="161" y="548" width="1" height="1"/>
<rect x="162" y="549" width="1" height="1"/>
<rect x="163" y="550" width="1" height="1"/>
<rect x="167" y="552" width="1" height="1"/>
<rect x="168" y="552" width="1" height="1"/>
<rect x="169" y="552" width="1" height="1"/>
<rect x="173" y="552" width="1" height="1"/>
<rect x="174" y="551" width="1" height="1"/>
<rect x="175" y="551" width="1" height="1"/>
<rect x="179" y="547" width="1" height="1"/>
<rect x="180" y="546" width="1" height="1"/>
<rect x="181" y="545" width="1" height="1"/>
<rect x="183" y="541" width="1" height="1"/>
<rect x="184" y="540" width="1" height="1"/>
<rect x="184" y="539" width="1" height="1"/>
<rect x="186" y="535" width="1" height="1"/>
<rect x="187" y="534" width="1" height="1"/>
<rect x="187" y="533" width="1" height="1"/>
<rect x="189" y="529" width="1" height="1"/>
<rect x="190" y="528" width="1" height="1"/>
<rect x="190" y="527" width="1" height="1"/>
<rect x="192" y="523" width="1" height="1"/>
<rect x="192" y="522" width="1" height="1"/>
<rect x="193" y="521" width="1" height="1"/>
<rect x="195" y="517" width="1" height="1"/>
<rect x="195" y="516" width="1" height="1"/>
<rect x="195" y="515" width="1" height="1"/>
<rect x="197" y="511" width="1" height="1"/>
<rect x="198" y="510" width="1" height="1"/>
<rect x="198" y="509" width="1" height="1"/>
<rect x="201" y="505" width="1" height="1"/>
<rect x="201" y="504" width="1" height="1"/>
<rect x="202" y="503" width="1" height="1"/>
<rect x="205" y="499" width="1" height="1"/>
<rect x="205" y="498" width="1" height="1"/>
<rect x="206" y="497" width="1" height="1"/>
<rect x="210" y="493" width="1" height="1"/>
<rect x="211" y="492" width="1" height="1"/>
<rect x="212" y="492" width="1" height="1"/>
<rect x="216" y="490" width="1" height="1"/>
<rect x="217" y="489" width="1" height="1"/>
<rect x="218" y="489" width="1" height="1"/>
<rect x="222" y="487" width="1" height="1"/>
<rect x="223" y="486" width="1" height="1"/>
<rect x="224" y="486" width="1" height="1"/>
<rect x="228" y="484" width="1" height="1"/>
<rect x="229" y="483" width="1" height="1"/>
<rect x="230" y="483" width="1" height="1"/>
<rect x="234" y="479" width="1" height="1"/>
<rect x="235" y="478" width="1" height="1"/>
<rect x="236" y="477" width="1" height="1"/>
<rect x="238" y="473" width="1" height="1"/>
<rect x="239" y="472" width="1" height="1"/>
<rect x="240" y="471" width="1" height="1"/>
<rect x="243" y="467" width="1" height="1"/>
<rect x="244" y="466" width="1" height="1"/>
<rect x="245" y="465" width="1" height="1"/>
<rect x="248" y="461" width="1" height="1"/>
<rect x="249" y="460" width="1" height="1"/>
<rect x="250" y="459" width="1" height="1"/>
<rect x="254" y="456" width="1" height="1"/>
<rect x="255" y="455" width="1" height="1"/>
<rect x="256" y="456" width="1" height="1"/>
<rect x="260" y="459" width="1" height="1"/>
<rect x="261" y="460" width="1" height="1"/>
<rect x="261" y="461" width="1" height="1"/>
<rect x="265" y="465" width="1" height="1"/>
<rect x="265" y="466" width="1" height="1"/>
<rect x="266" y="467" width="1" height="1"/>
<rect x="270" y="470" width="1" height="1"/>
<rect x="271" y="471" width="1" height="1"/>
<rect x="272" y="471" width="1" height="1"/>
<rect x="276" y="473" width="1" height="1"/>
<rect x="277" y="472" width="1" height="1"/>
<rect x="278" y="472" width="1" height="1"/>
<rect x="282" y="468" width="1" height="1"/>
<rect x="283" y="467" width="1" height="1"/>
<rect x="284" y="466" width="1" height="1"/>
<rect x="288" y="462" width="1" height="1"/>
<rect x="289" y="461" width="1" height="1"/>
<rect x="289" y="460" width="1" height="1"/>
<rect x="293" y="456" width="1" height="1"/>
<rect x="294" y="455" width="1" height="1"/>
<rect x="295" y="454" width="1" height="1"/>
<rect x="299" y="450" width="1" height="1"/>
<rect x="300" y="449" width="1" height="1"/>
<rect x="301" y="449" width="1" height="1"/>
<rect x="305" y="446" width="1" height="1"/>
<rect x="306" y="445" width="1" height="1"/>
<rect x="307" y="444" width="1" height="1"/>
<rect x="311" y="443" width="1" height="1"/>
<rect x="312" y="443" width="1" height="1"/>
<rect x="313" y="443" width="1" height="1"/>
<rect x="317" y="443" width="1" height="1"/>
<rect x="318" y="443" width="1" height="1"/>
<rect x="319" y="443" width="1" height="1"/>
<rect x="323" y="444" width="1" height="1"/>
<rect x="324" y="445" width="1" height="1"/>
<rect x="325" y="445" width="1" height="1"/>
<rect x="329" y="448" width="1" height="1"/>
<rect x="330" y="449" width="1" height="1"/>
<rect x="331" y="450" width="1" height="1"/>
<rect x="334" y="454" width="1" height="1"/>
<rect x="335" y="455" width="1" height="1"/>
<rect x="336" y="456" width="1" height="1"/>
<rect x="340" y="460" width="1" height="1"/>
<rect x="341" y="461" width="1" height="1"/>
<rect x="342" y="462" width="1" height="1"/>
<rect x="346" y="466" width="1" height="1"/>
<rect x="347" y="467" width="1" height="1"/>
<rect x="348" y="467" width="1" height="1"/>
<rect x="352" y="469" width="1" height="1"/>
<rect x="353" y="469" width="1" height="1"/>
<rect x="354" y="470" width="1" height="1"/>
<rect x="358" y="471" width="1" height="1"/>
<rect x="359" y="471" width="1" height="1"/>
<rect x="360" y="471" width="1" height="1"/>
<rect x="364" y="471" width="1" height="1"/>
<rect x="365" y="471" width="1" height="1"/>
<rect x="366" y="470" width="1" height="1"/>
<rect x="370" y="469" width="1" height="1"/>
<rect x="371" y="468" width="1" height="1"/>
<rect x="372" y="468" width="1" height="1"/>
<rect x="376" y="467" width="1" height="1"/>
<rect x="377" y="467" width="1" height="1"/>
<rect x="378" y="467" width="1" height="1"/>
<rect x="382" y="468" width="1" height="1"/>
<rect x="383" y="468" width="1" height="1"/>
<rect x="384" y="468" width="1" height="1"/>
<rect x="388" y="471" width="1" height="1"/>
<rect x="389" y="472" width="1" height="1"/>
<rect x="390" y="473" width="1" height="1"/>
<rect x="393" y="477" width="1" height="1"/>
<rect x="394" y="478" width="1" height="1"/>
<rect x="394" y="479" width="1" height="1"/>
<rect x="398" y="483" width="1" height="1"/>
<rect x="399" y="484" width="1" height="1"/>
<rect x="400" y="485" width="1" height="1"/>
<rect x="404" y="489" width="1" height="1"/>
<rect x="405" y="489" width="1" height="1"/>
<rect x="406" y="490" width="1" height="1"/>
<rect x="410" y="492" width="1" height="1"/>
<rect x="411" y="493" width="1" height="1"/>
<rect x="412" y="493" width="1" height="1"/>
<rect x="416" y="495" width="1" height="1"/>
<rect x="417" y="496" width="1" height="1"/>
<rect x="418" y="496" width="1" height="1"/>
<rect x="422" y="498" width="1" height="1"/>
<rect x="423" y="498" width="1" height="1"/>
<rect x="424" y="498" width="1" height="1"/>
<rect x="428" y="499" width="1" height="1"/>
<rect x="429" y="499" width="1" height="1"/>
<rect x="430" y="500" width="1" height="1"/>
<rect x="434" y="503" width="1" height="1"/>
<rect x="435" y="504" width="1" height="1"/>
<rect x="436" y="505" width="1" height="1"/>
<rect x="440" y="509" width="1" height="1"/>
<rect x="440" y="510" width="1" height="1"/>
<rect x="441" y="511" width="1" height="1"/>
<rect x="443" y="515" width="1" height="1"/>
<rect x="444" y="516" width="1" height="1"/>
<rect x="444" y="517" width="1" height="1"/>
<rect x="446" y="521" width="1" height="1"/>
<rect x="447" y="522" width="1" height="1"/>
<rect x="447" y="523" width="1" height="1"/>
<rect x="449" y="527" width="1" height="1"/>
<rect x="450" y="528" width="1" height="1"/>
<rect x="450" y="529" width="1" height="1"/>
<rect x="453" y="533" width="1" height="1"/>
<rect x="453" y="534" width="1" height="1"/>
<rect x="454" y="535" width="1" height="1"/>
<rect x="457" y="539" width="1" height="1"/>
<rect x="457" y="540" width="1" height="1"/>
<rect x="458" y="541" width="1" height="1"/>
<rect x="462" y="545" width="1" height="1"/>
<rect x="463" y="546" width="1" height="1"/>
<rect x="464" y="547" width="1" height="1"/>
<rect x="468" y="550" width="1" height="1"/>
<rect x="469" y="550" width="1" height="1"/>
<rect x="470" y="551" width="1" height="1"/>
<rect x="474" y="552" width="1" height="1"/>
<rect x="475" y="552" width="1" height="1"/>
<rect x="476" y="552" width="1" height="1"/>
<rect x="480" y="550" width="1" height="1"/>
<rect x="481" y="550" width="1" height="1"/>
<rect x="482" y="549" width="1" height="1"/>
<rect x="486" y="548" width="1" height="1"/>
<rect x="487" y="548" width="1" height="1"/>
<rect x="488" y="548" width="1" height="1"/>
<rect x="492" y="546" width="1" height="1"/>
<rect x="493" y="545" width="1" height="1"/>
<rect x="494" y="545" width="1" height="1"/>
<rect x="497" y="541" width="1" height="1"/>
<rect x="498" y="540" width="1" height="1"/>
<rect x="499" y="539" width="1" height="1"/>
<rect x="501" y="535" width="1" height="1"/>
<rect x="501" y="534" width="1" height="1"/>
<rect x="502" y="533" width="1" height="1"/>
<rect x="504" y="529" width="1" height="1"/>
<rect x="504" y="528" width="1" height="1"/>
<rect x="504" y="527" width="1" height="1"/>
<rect x="505" y="523" width="1" height="1"/>
<rect x="506" y="522" width="1" height="1"/>
<rect x="506" y="521" width="1" height="1"/>
<rect x="507" y="517" width="1" height="1"/>
<rect x="508" y="516" width="1" height="1"/>
<rect x="508" y="515" width="1" height="1"/>
<rect x="509" y="511" width="1" height="1"/>
<rect x="509" y="510" width="1" height="1"/>
<rect x="510" y="509" width="1" height="1"/>
<rect x="511" y="505" width="1" height="1"/>
<rect x="511" y="504" width="1" height="1"/>
<rect x="511" y="503" width="1" height="1"/>
<rect x="512" y="499" width="1" height="1"/>
<rect x="513" y="498" width="1" height="1"/>
<rect x="513" y="497" width="1" height="1"/>
<rect x="514" y="493" width="1" height="1"/>
<rect x="514" y="492" width="1" height="1"/>
<rect x="515" y="491" width="1" height="1"/>
<rect x="516" y="487" width="1" height="1"/>
<rect x="517" y="486" width="1" height="1"/>
<rect x="517" y="485" width="1" height="1"/>
<rect x="519" y="481" width="1" height="1"/>
<rect x="519" y="480" width="1" height="1"/>
<rect x="520" y="479" width="1" height="1"/>
<rect x="524" y="477" width="1" height="1"/>
<rect x="525" y="478" width="1" height="1"/>
<rect x="526" y="478" width="1" height="1"/>
<rect x="529" y="482" width="1" height="1"/>
<rect x="529" y="483" width="1" height="1"/>
<rect x="530" y="484" width="1" height="1"/>
<rect x="532" y="488" width="1" height="1"/>
<rect x="532" y="489" width="1" height="1"/>
<rect x="533" y="490" width="1" height="1"/>
<rect x="535" y="494" width="1" height="1"/>
<rect x="535" y="495" width="1" height="1"/>
<rect x="536" y="496" width="1" height="1"/>
<rect x="538" y="500" width="1" height="1"/>
<rect x="538" y="501" width="1" height="1"/>
<rect x="539" y="502" width="1" height="1"/>
<rect x="542" y="506" width="1" height="1"/>
<rect x="542" y="507" width="1" height="1"/>
<rect x="543" y="508" width="1" height="1"/>
<rect x="546" y="512" width="1" height="1"/>
<rect x="547" y="513" width="1" height="1"/>
<rect x="548" y="514" width="1" height="1"/>
<rect x="552" y="516" width="1" height="1"/>
<rect x="553" y="516" width="1" height="1"/>
<rect x="554" y="516" width="1" height="1"/>
<rect x="558" y="516" width="1" height="1"/>
<rect x="559" y="516" width="1" height="1"/>
<rect x="560" y="516" width="1" height="1"/>
<rect x="564" y="519" width="1" height="1"/>
<rect x="565" y="520" width="1" height="1"/>
<rect x="566" y="521" width="1" height="1"/>
<rect x="570" y="525" width="1" height="1"/>
<rect x="571" y="526" width="1" height="1"/>
<rect x="572" y="527" width="1" height="1"/>
<rect x="576" y="529" width="1" height="1"/>
<rect x="577" y="529" width="1" height="1"/>
<rect x="578" y="529" width="1" height="1"/>
<rect x="582" y="526" width="1" height="1"/>
<rect x="583" y="525" width="1" height="1"/>
<rect x="584" y="524" width="1" height="1"/>
<rect x="586" y="520" width="1" height="1"/>
<rect x="586" y="519" width="1" height="1"/>
<rect x="587" y="518" width="1" height="1"/>
<rect x="589" y="514" width="1" height="1"/>
<rect x="589" y="513" width="1" height="1"/>
<rect x="590" y="512" width="1" height="1"/>
<rect x="591" y="508" width="1" height="1"/>
<rect x="592" y="507" width="1" height="1"/>
<rect x="592" y="506" width="1" height="1"/>
<rect x="594" y="502" width="1" height="1"/>
<rect x="595" y="501" width="1" height="1"/>
<rect x="596" y="500" width="1" height="1"/>
<rect x="599" y="496" width="1" height="1"/>
<rect x="600" y="495" width="1" height="1"/>
<rect x="601" y="495" width="1" height="1"/>
<rect x="605" y="492" width="1" height="1"/>
<rect x="606" y="491" width="1" height="1"/>
<rect x="607" y="490" width="1" height="1"/>
<rect x="611" y="488" width="1" height="1"/>
<rect x="612" y="488" width="1" height="1"/>
<rect x="613" y="487" width="1" height="1"/>
<rect x="617" y="485" width="1" height="1"/>
<rect x="618" y="484" width="1" height="1"/>
<rect x="619" y="483" width="1" height="1"/>
<rect x="623" y="482" width="1" height="1"/>
<rect x="624" y="482" width="1" height="1"/>
<rect x="625" y="482" width="1" height="1"/>
<rect x="628" y="484" width="1" height="1"/>
<rect x="629" y="485" width="1" height="1"/>
<rect x="630" y="486" width="1" height="1"/>
<rect x="632" y="490" width="1" height="1"/>
<rect x="632" y="491" width="1" height="1"/>
<rect x="633" y="492" width="1" height="1"/>
<rect x="635" y="496" width="1" height="1"/>
<rect x="635" y="497" width="1" height="1"/>
<rect x="636" y="498" width="1" height="1"/>
<rect x="638" y="502" width="1" height="1"/>
<rect x="638" y="503" width="1" height="1"/>
<rect x="639" y="504" width="1" height="1"/>
<rect x="641" y="508" width="1" height="1"/>
<rect x="641" y="509" width="1" height="1"/>
<rect x="641" y="510" width="1" height="1"/>
<rect x="643" y="514" width="1" height="1"/>
<rect x="643" y="515" width="1" height="1"/>
<rect x="644" y="516" width="1" height="1"/>
<rect x="646" y="520" width="1" height="1"/>
<rect x="646" y="521" width="1" height="1"/>
<rect x="647" y="522" width="1" height="1"/>
<rect x="651" y="525" width="1" height="1"/>
<rect x="652" y="525" width="1" height="1"/>
<rect x="653" y="525" width="1" height="1"/>
<rect x="657" y="526" width="1" height="1"/>
<rect x="658" y="527" width="1" height="1"/>
<rect x="659" y="527" width="1" height="1"/>
<rect x="663" y="529" width="1" height="1"/>
<rect x="664" y="530" width="1" height="1"/>
<rect x="665" y="530" width="1" height="1"/>
<rect x="669" y="534" width="1" height="1"/>
<rect x="670" y="535" width="1" height="1"/>
<rect x="671" y="536" width="1" height="1"/>
<rect x="675" y="540" width="1" height="1"/>
<rect x="676" y="541" width="1" height="1"/>
<rect x="677" y="542" width="1" height="1"/>
<rect x="681" y="546" width="1" height="1"/>
<rect x="682" y="547" width="1" height="1"/>
<rect x="683" y="548" width="1" height="1"/>
<rect x="686" y="552" width="1" height="1"/>
<rect x="687" y="553" width="1" height="1"/>
<rect x="688" y="554" width="1" height="1"/>
<rect x="691" y="558" width="1" height="1"/>
<rect x="692" y="559" width="1" height="1"/>
<rect x="693" y="560" width="1" height="1"/>
<rect x="697" y="563" width="1" height="1"/>
<rect x="698" y="563" width="1" height="1"/>
<rect x="699" y="564" width="1" height="1"/>
<rect x="703" y="565" width="1" height="1"/>
<rect x="704" y="565" width="1" height="1"/>
<rect x="705" y="565" width="1" height="1"/>
<rect x="709" y="565" width="1" height="1"/>
<rect x="710" y="565" width="1" height="1"/>
<rect x="711" y="565" width="1" height="1"/>
<rect x="715" y="567" width="1" height="1"/>
<rect x="716" y="567" width="1" height="1"/>
<rect x="717" y="567" width="1" height="1"/>
<rect x="721" y="566" width="1" height="1"/>
<rect x="722" y="565" width="1" height="1"/>
<rect x="723" y="565" width="1" height="1"/>
<rect x="727" y="562" width="1" height="1"/>
<rect x="728" y="561" width="1" height="1"/>
<rect x="728" y="560" width="1" height="1"/>
<rect x="731" y="556" width="1" height="1"/>
<rect x="731" y="555" width="1" height="1"/>
<rect x="732" y="554" width="1" height="1"/>
<rect x="734" y="550" width="1" height="1"/>
<rect x="734" y="549" width="1" height="1"/>
</g>
<g fill="#000">
<rect x="2" y="2" width="759" height="1"/>
<rect x="2" y="431" width="759" height="1"/>
<rect x="2" y="2" width="1" height="430"/>
<rect x="760" y="2" width="1" height="430"/>
<rect x="2" y="433" width="759" height="1"/>
<rect x="2" y="582" width="759" height="1"/>
<rect x="761" y="435" width="1" height="1"/>
<rect x="761" y="581" width="1" height="1"/>
<rect x="2" y="433" width="1" height="150"/>
<rect x="760" y="433" width="1" height="150"/>
<rect x="761" y="16" width="2" height="1"/>
<rect x="761" y="50" width="2" height="1"/>
<rect x="761" y="85" width="2" height="1"/>
<rect x="761" y="119" width="2" height="1"/>
<rect x="761" y="153" width="2" height="1"/>
<rect x="761" y="187" width="2" height="1"/>
<rect x="761" y="221" width="2" height="1"/>
<rect x="761" y="255" width="2" height="1"/>
<rect x="761" y="289" width="2" height="1"/>
<rect x="761" y="324" width="2" height="1"/>
<rect x="761" y="358" width="2" height="1"/>
<rect x="761" y="392" width="2" height="1"/>
<rect x="761" y="426" width="2" height="1"/>
<rect x="761" y="483" width="2" height="1"/>
<rect x="3" y="583" width="1" height="3"/>
<rect x="67" y="583" width="1" height="3"/>
<rect x="131" y="583" width="1" height="3"/>
<rect x="195" y="583" width="1" height="3"/>
<rect x="259" y="583" width="1" height="3"/>
<rect x="323" y="583" width="1" height="3"/>
<rect x="387" y="583" width="1" height="3"/>
<rect x="451" y="583" width="1" height="3"/>
<rect x="515" y="583" width="1" height="3"/>
<rect x="579" y="583" width="1" height="3"/>
<rect x="643" y="583" width="1" height="3"/>
<rect x="707" y="583" width="1" height="3"/>
</g>
<text transform="translate(765.89,19) scale(1.0354,1.10)">120.75</text>
<text transform="translate(765.89,53) scale(1.0354,1.10)">120.35</text>
<text transform="translate(765.89,88) scale(1.0354,1.10)">119.95</text>
<text transform="translate(765.89,122) scale(1.0354,1.10)">119.55</text>
<text transform="translate(765.89,156) scale(1.0354,1.10)">119.15</text>
<text transform="translate(765.89,190) scale(1.0354,1.10)">118.75</text>
<text transform="translate(765.89,224) scale(1.0354,1.10)">118.35</text>
<text transform="translate(765.89,258) scale(1.0354,1.10)">117.95</text>
<text transform="translate(765.89,292) scale(1.0354,1.10)">117.55</text>
<text transform="translate(765.89,327) scale(1.0354,1.10)">117.15</text>
<text transform="translate(765.89,361) scale(1.0354,1.10)">116.75</text>
<text transform="translate(765.89,395) scale(1.0354,1.10)">116.35</text>
<text transform="translate(765.89,429) scale(1.0354,1.10)">115.95</text>
<rect x="762" y="3" width="36" height="11" fill="#FF0000"/>
<text transform="translate(765.89,12) scale(1.0309,1.10)" class="w">120.84</text>
<rect x="762" y="79" width="36" height="11" fill="#FF0000"/>
<text transform="translate(765.89,88) scale(1.0354,1.10)" class="w">119.95</text>
<rect x="762" y="165" width="36" height="11" fill="#FF0000"/>
<text transform="translate(765.89,174) scale(1.0309,1.10)" class="w">118.94</text>
<rect x="762" y="215" width="36" height="11" fill="#FF0000"/>
<text transform="translate(765.89,224) scale(1.0354,1.10)" class="w">118.35</text>
<rect x="762" y="267" width="36" height="11" fill="#FF0000"/>
<text transform="translate(765.89,276) scale(1.0309,1.10)" class="w">117.74</text>
<rect x="762" y="411" width="36" height="11" fill="#FF0000"/>
<text transform="translate(765.89,420) scale(1.0361,1.10)" class="w">116.06</text>
<rect x="762" y="325" width="36" height="11" fill="#000"/>
<text transform="translate(765.89,334) scale(1.0361,1.10)" class="w">117.06</text>
<text transform="translate(764.04,444) scale(1.0302,1.10)">0.439</text>
<text transform="translate(764.03,486) scale(1.0468,1.10)">0.00</text>
<text transform="translate(763.99,579) scale(1.0176,1.10)">-0.897</text>
<rect x="17" y="5" width="180" height="11" fill="#FFFAFA"/>
<path d="M6 9h7v1h-1v1h-1v1h-1v1h-1v-1h-1v-1h-1v-1h-1z" fill="#000"/>
<text transform="translate(18.09,14) scale(1.0252,1.10)">USDJPY,H1</text>
<text transform="translate(74.68,14) scale(1.0510,1.10)">116.98</text>
<text transform="translate(106.06,14) scale(1.0056,1.10)">117.11</text>
<text transform="translate(137.09,14) scale(1.0354,1.10)">116.95</text>
<text transform="translate(168.01,14) scale(1.0134,1.10)">117.06</text>
<text transform="translate(6.52,446) scale(1.0619,1.10)">MACD(5,34,5)</text>
<text transform="translate(70.78,446) scale(1.0509,1.10)">-0.415</text>
<text transform="translate(100.10,446) scale(1.0124,1.10)">-0.569</text>
<text transform="translate(6.73,578) scale(1.0365,1.10)">MetaTrader,</text>
<text transform="translate(61.04,578) scale(1.1803,1.10)">©</text>
<text transform="translate(71.54,578) scale(1.0095,1.10)">2001-2014,</text>
<text transform="translate(120.83,578) scale(1.0425,1.10)">MetaQuotes</text>
<text transform="translate(175.57,578) scale(1.0487,1.10)">Software</text>
<text transform="translate(216.53,578) scale(1.0324,1.10)">Corp.</text>
<text transform="translate(2.13,595) scale(1.0160,1.10)">5 Jan 2015</text>
<text transform="translate(65.83,595) scale(1.0275,1.10)">5 Jan 21:00</text>
<text transform="translate(129.73,595) scale(1.0296,1.10)">6 Jan 13:00</text>
<text transform="translate(193.72,595) scale(1.0297,1.10)">7 Jan 05:00</text>
<text transform="translate(257.72,595) scale(1.0297,1.10)">7 Jan 21:00</text>
<text transform="translate(321.80,595) scale(1.0282,1.10)">8 Jan 13:00</text>
<text transform="translate(385.77,595) scale(1.0288,1.10)">9 Jan 05:00</text>
<text transform="translate(449.77,595) scale(1.0288,1.10)">9 Jan 21:00</text>
<text transform="translate(514.01,595) scale(1.0116,1.10)">12 Jan 14:00</text>
<text transform="translate(578.01,595) scale(1.0116,1.10)">13 Jan 06:00</text>
<text transform="translate(642.01,595) scale(1.0116,1.10)">13 Jan 22:00</text>
<text transform="translate(706.01,595) scale(1.0116,1.10)">14 Jan 14:00</text>
</svg></body></html>
